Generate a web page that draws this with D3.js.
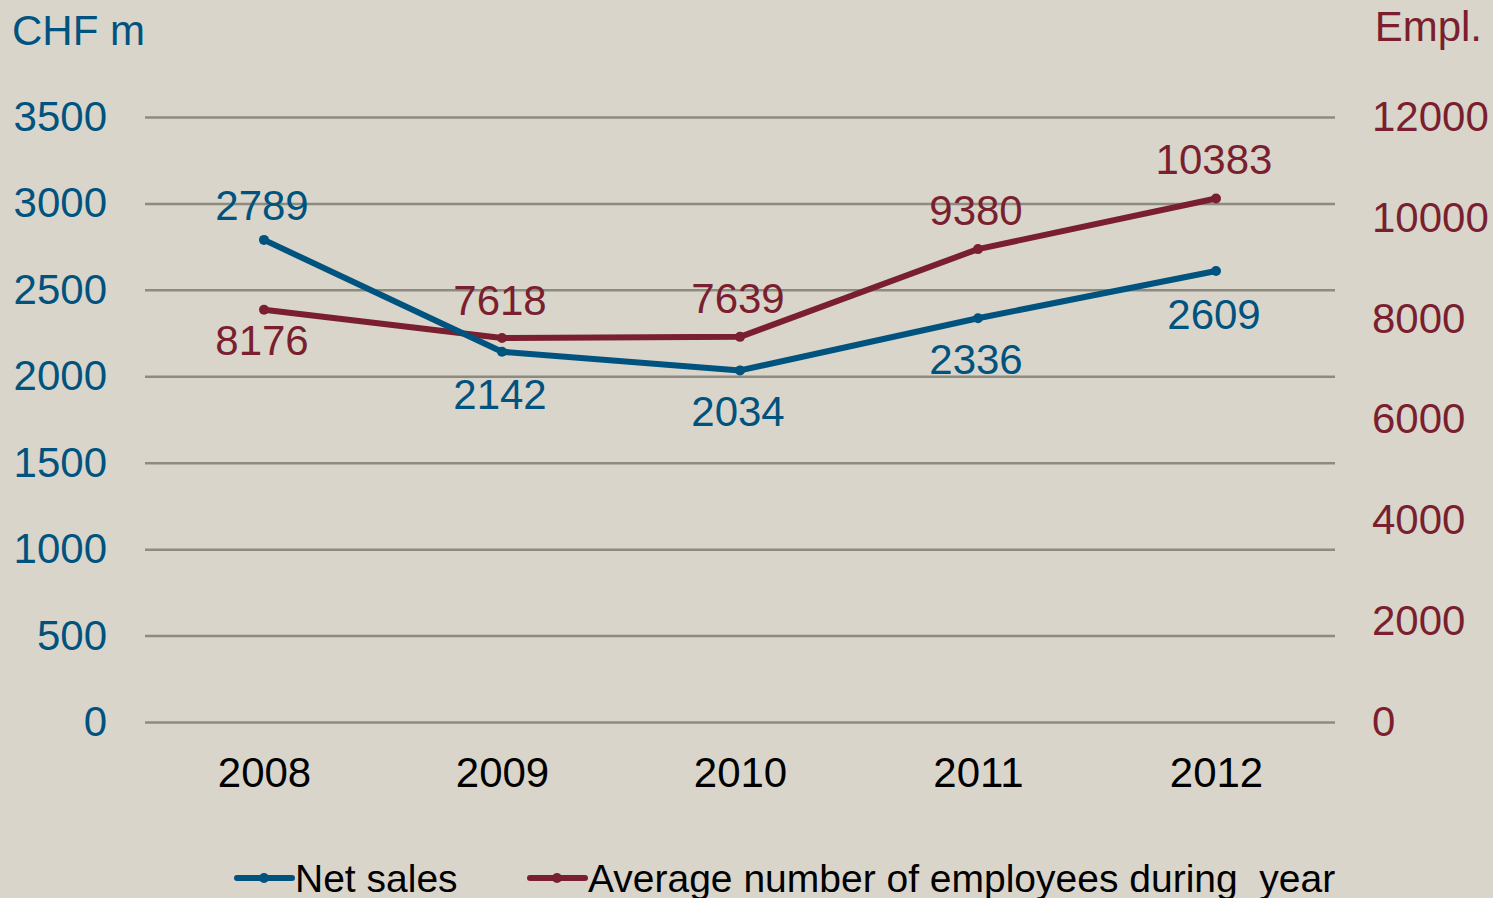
<!DOCTYPE html>
<html>
<head>
<meta charset="utf-8">
<script src="https://cdn.jsdelivr.net/npm/d3@7"></script>
<style>
  body { margin: 0; background: #d9d5ca; overflow: hidden; }
  svg text { font-family: 'Liberation Sans', Arial, sans-serif; }
</style>
</head>
<body>
<div class="chart"></div>
<script>
// data
const years = ['2008', '2009', '2010', '2011', '2012']
const netSales = [2789, 2142, 2034, 2336, 2609]
const employees = [8176, 7618, 7639, 9380, 10383]
const salesTicks = [0, 500, 1000, 1500, 2000, 2500, 3000, 3500]
const emplTicks = [0, 2000, 4000, 6000, 8000, 10000, 12000]
// label offset from the point, in px (negative = above)
const salesLabelOff = [-35, 43, 41, 41, 43]
const emplLabelOff = [31, -38, -39, -39, -39]

const blue = '#00537f'
const red = '#7a1f2f'
const fontSize = '42px'
const width = 1493
const height = 898
const plotLeft = 145
const plotRight = 1335
const plotTop = 117
const plotBottom = 722

const svg = d3
  .select('.chart')
  .append('svg')
  .attr('width', width)
  .attr('height', height)
  .style('display', 'block')

svg.append('rect').attr('width', width).attr('height', height).attr('fill', '#d9d5ca')

const x = d3.scalePoint().domain(years).range([plotLeft, plotRight]).padding(0.5)
const yL = d3.scaleLinear().domain([0, 3500]).range([plotBottom, plotTop])
const yR = d3.scaleLinear().domain([0, 12000]).range([plotBottom, plotTop])

// grid lines
svg
  .append('g')
  .attr('transform', `translate(${plotLeft},0)`)
  .call(d3.axisLeft(yL).tickValues(salesTicks).tickSize(-(plotRight - plotLeft)).tickFormat(''))
  .call((g) => g.select('.domain').remove())
  .call((g) => g.selectAll('line').attr('stroke', '#8d8b80').attr('stroke-width', 2.5))

// left axis labels
svg
  .append('g')
  .attr('transform', `translate(${plotLeft},0)`)
  .call(d3.axisLeft(yL).tickValues(salesTicks).tickSize(0).tickPadding(38).tickFormat(d3.format('d')))
  .call((g) => g.select('.domain').remove())
  .call((g) =>
    g.selectAll('text').attr('fill', blue).style('font-size', fontSize)
  )

// right axis labels
svg
  .append('g')
  .attr('transform', `translate(${plotRight},0)`)
  .call(d3.axisRight(yR).tickValues(emplTicks).tickSize(0).tickPadding(37).tickFormat(d3.format('d')))
  .call((g) => g.select('.domain').remove())
  .call((g) =>
    g.selectAll('text').attr('fill', red).style('font-size', fontSize)
  )

// x axis labels
svg
  .append('g')
  .attr('transform', `translate(0,${plotBottom})`)
  .call(d3.axisBottom(x).tickSize(0).tickPadding(35))
  .call((g) => g.select('.domain').remove())
  .call((g) =>
    g.selectAll('text').attr('fill', '#000').style('font-size', fontSize)
  )

// axis titles
svg.append('text').attr('x', 12).attr('y', 45).attr('fill', blue)
  .style('font-size', fontSize).text('CHF m')
svg.append('text').attr('x', 1482).attr('y', 41).attr('fill', red)
  .attr('text-anchor', 'end').style('font-size', fontSize).text('Empl.')

function drawSeries(values, y, color, labelOff) {
  const pts = values.map((v, i) => [x(years[i]), y(v)])
  svg
    .append('path')
    .datum(pts)
    .attr('d', d3.line())
    .attr('fill', 'none')
    .attr('stroke', color)
    .attr('stroke-width', 6)
    .attr('stroke-linejoin', 'round')
  svg
    .selectAll(null)
    .data(pts)
    .enter()
    .append('circle')
    .attr('cx', (d) => d[0])
    .attr('cy', (d) => d[1])
    .attr('r', 5)
    .attr('fill', color)
  svg
    .selectAll(null)
    .data(values)
    .enter()
    .append('text')
    .attr('x', (d, i) => x(years[i]) - 2)
    .attr('y', (d, i) => y(d) + labelOff[i])
    .attr('dy', '0.35em')
    .attr('text-anchor', 'middle')
    .attr('fill', color)
    .style('font-size', fontSize)
    .text((d) => d)
}

drawSeries(employees, yR, red, emplLabelOff)
drawSeries(netSales, yL, blue, salesLabelOff)

// legend
const legend = [
  { name: 'Net sales', color: blue, x: 237 },
  { name: 'Average number of employees during  year', color: red, x: 530 },
]
const lg = svg
  .selectAll('.legend')
  .data(legend)
  .enter()
  .append('g')
  .attr('transform', (d) => `translate(${d.x},878)`)
lg.append('line')
  .attr('x1', 0).attr('x2', 55)
  .attr('stroke', (d) => d.color)
  .attr('stroke-width', 6)
  .attr('stroke-linecap', 'round')
lg.append('circle').attr('cx', 27).attr('r', 5).attr('fill', (d) => d.color)
lg.append('text')
  .attr('x', 58)
  .attr('dy', '0.35em')
  .style('font-size', '39px')
  .style('white-space', 'pre')
  .attr('fill', '#000')
  .text((d) => d.name)
</script>
</body>
</html>
